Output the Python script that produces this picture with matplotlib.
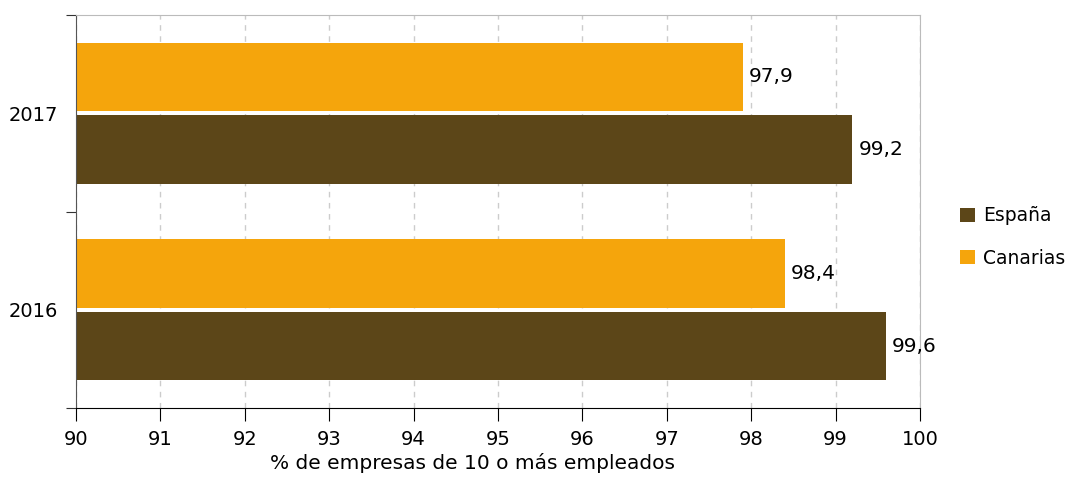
import numpy as np
import matplotlib.pyplot as plt

# datos
anios = ['2016', '2017']
espana = [99.6, 99.2]
canarias = [98.4, 97.9]
etiquetas_x = [90, 91, 92, 93, 94, 95, 96, 97, 98, 99, 100]

c_esp = '#5c4618'
c_can = '#f5a50c'

plt.rcParams['font.family'] = ['DejaVu Sans']
fig = plt.figure(figsize=(10.72, 4.78), dpi=100)
ax = fig.add_axes([76/1072, 1-408/478, (920-76)/1072, (408-15)/478])

pos = np.arange(len(anios)) + 0.5
h = 0.35
off = 0.185
b1 = ax.barh(pos - off, espana, height=h, color=c_esp, label='España')
b2 = ax.barh(pos + off, canarias, height=h, color=c_can, label='Canarias')

for p, v in zip(pos - off, espana):
    ax.text(v + 0.07, p, str(v).replace('.', ','), va='center', ha='left', fontsize=14.5)
for p, v in zip(pos + off, canarias):
    ax.text(v + 0.07, p, str(v).replace('.', ','), va='center', ha='left', fontsize=14.5)

ax.set_xlim(90, 100)
ax.set_ylim(0, 2)
ax.set_xticks(etiquetas_x)
ax.set_xticklabels([str(e) for e in etiquetas_x], fontsize=14)
ax.set_yticks([0, 1, 2])
ax.set_yticklabels([])
ax.set_yticks(pos, minor=True)
ax.set_yticklabels(anios, minor=True, fontsize=14)
ax.tick_params(axis='y', which='minor', length=0, pad=13)
ax.tick_params(axis='y', which='major', length=7, direction='out', color='#333333')
ax.tick_params(axis='x', length=9, direction='out', pad=7)
ax.set_xlabel('% de empresas de 10 o más empleados', fontsize=14.5, labelpad=1)
ax.xaxis.set_label_coords((472-76)/844, -0.115)

ax.grid(axis='x', linestyle=(0, (4, 4)), color='#cccccc', linewidth=1)
ax.set_axisbelow(True)
for s in ['top', 'right']:
    ax.spines[s].set_color('#bbbbbb')
ax.spines['left'].set_color('#555555')
ax.spines['bottom'].set_color('black')

leg = fig.legend(handles=[b1, b2], loc='center left', bbox_to_anchor=(943/1072, 1-237/478),
                 frameon=False, fontsize=13.5, handlelength=0.8, handleheight=0.8,
                 labelspacing=1.25, handletextpad=0.45)

fig.savefig('out.png', dpi=100)
